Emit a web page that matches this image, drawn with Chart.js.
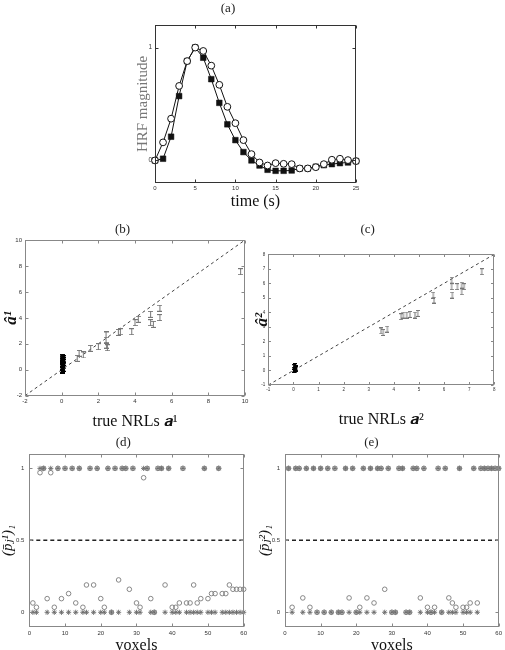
<!DOCTYPE html>
<html><head><meta charset="utf-8">
<script src="https://cdn.jsdelivr.net/npm/chart.js@4.4.1/dist/chart.umd.min.js"></script>
<style>
html,body{margin:0;padding:0;background:#fff;overflow:hidden;width:505px;height:650px;}
canvas{position:absolute;}
</style></head><body>
<canvas id="ca" width="311" height="213" style="left:100px;top:0px"></canvas>
<canvas id="cb" width="254" height="214" style="left:0px;top:218px"></canvas>
<canvas id="cc" width="264" height="212" style="left:241px;top:218px"></canvas>
<canvas id="cd" width="250" height="227" style="left:0px;top:433px"></canvas>
<canvas id="ce" width="264" height="227" style="left:241px;top:433px"></canvas>
<script>
// ---------- DATA ----------
// (a) HRF
const hrfTime = [0,1,2,3,4,5,6,7,8,9,10,11,12,13,14,15,16,17,18,19,20,21,22,23,24,25];
const hrfEstimated = [0,0.16,0.37,0.66,0.88,1.0,0.97,0.84,0.67,0.475,0.33,0.18,0.056,-0.018,-0.045,-0.024,-0.03,-0.033,-0.071,-0.071,-0.06,-0.033,0.006,0.015,0.003,-0.006];
const hrfTrue = [0,0.015,0.21,0.57,0.88,1.0,0.91,0.72,0.51,0.32,0.18,0.074,0,-0.045,-0.083,-0.092,-0.092,-0.089,-0.071,-0.071,-0.056,-0.042,-0.033,-0.024,-0.018,-0.006];
const hrfYTicks = [0, 1];

// (b) condition 1 NRLs
const b1TrueActive = [0.85,0.95,1.18,1.58,2.0,2.42,2.42,2.45,2.49,3.09,3.2,3.82,4.0,4.18,4.85,4.85,5.0,5.36,5.36,9.76];
const b1EstActive  = [0.88,1.26,1.14,1.65,1.78,2.29,2.68,1.9,1.7,2.88,2.93,2.93,3.63,3.89,4.27,3.63,3.5,4.74,4.02,7.56];
const b1TrueInactive = [0.02,0.05,0.08,0.03,0.06,0.1,0.04,0.07,0.02,0.09,0.05,0.08,0.03,0.06,0.1,0.04,0.07,0.05];
const b1EstInactive  = [-0.05,0.02,0.1,0.18,0.25,0.3,0.38,0.45,0.5,0.56,0.62,0.68,0.74,0.8,0.85,0.9,0.95,0.6];
const bIdentity = [-2, 10];

// (c) condition 2 NRLs
const c2TrueActive = [3.49,3.58,3.74,4.29,4.38,4.51,4.64,4.84,4.95,5.57,5.6,6.3,6.3,6.33,6.53,6.7,6.7,6.8,7.5];
const c2EstActive  = [2.72,2.62,2.85,3.7,3.82,3.82,3.86,3.82,3.93,5.19,4.85,6.22,5.77,5.19,5.77,5.88,5.42,5.77,6.8];
const c2TrueInactive = [0.02,0.05,0.08,0.1,0.04,0.07,0.12,0.06];
const c2EstInactive  = [0.05,0.12,0.2,0.1,0.25,0.0,0.15,0.3];
const cIdentity = [-1, 8];

// (d),(e) posterior probabilities per voxel
const voxels = [1,2,3,4,5,6,7,8,9,10,11,12,13,14,15,16,17,18,19,20,21,22,23,24,25,26,27,28,29,30,31,32,33,34,35,36,37,38,39,40,41,42,43,44,45,46,47,48,49,50,51,52,53,54,55,56,57,58,59,60];
const d1Labels = [0,0,1,1,0,1,0,1,0,1, 0,1,0,1,0,0,1,0,1,0, 0,1,0,1,0,1,1,0,1,0, 0,1,1,0,0,1,1,0,1,0, 0,0,1,0,0,0,0,0,1,0, 0,0,1,0,0,0,0,0,0,0];
const d1Probs  = [0.065,0.035,0.97,1,0.095,0.97,0.035,1,0.095,1, 0.13,1,0.065,1,0.035,0.19,1,0.19,1,0.095, 0.035,1,0,1,0.225,1,1,0.16,1,0.065, 0.035,0.935,1,0.095,0,1,1,0.19,1,0.035, 0.035,0.065,1,0.065,0.065,0.19,0.065,0.095,1,0.095, 0.13,0.13,1,0.13,0.13,0.19,0.16,0.16,0.16,0.16];
const e2Labels = [1,0,1,1,0,1,0,1,0,1, 0,1,0,1,0,0,1,0,1,0, 0,1,0,1,0,1,1,0,1,0, 0,1,1,0,0,1,1,0,1,0, 0,0,1,0,1,0,0,0,1,0, 0,0,1,0,1,1,1,1,1,1];
const e2Probs  = [1,0.035,1,1,0.1,1,0.035,1,0,1, 0,1,0,1,0,0,1,0.1,1,0, 0.035,1,0.1,1,0.065,1,1,0.16,1,0, 0,1,1,0,0,1,1,0.1,1,0.035, 0,0.035,1,0,1,0.1,0.065,0.035,1,0.035, 0.035,0.065,1,0.065,1,1,1,1,1,1];
const pYTicks = [0, 0.5, 1];
const pThreshold = 0.5;
const voxelRange = [0, 60];

// ---------- HELPERS ----------
const SERIF = "'Liberation Serif','DejaVu Serif',serif";
const SANS = "'Liberation Sans','DejaVu Sans',sans-serif";
const pts = (xs, ys) => xs.map((x, i) => ({x, y: ys[i]}));

function errBar(w, h, color, lw) {
  const c = document.createElement('canvas');
  c.width = w; c.height = h;
  const g = c.getContext('2d');
  g.strokeStyle = color; g.lineWidth = lw;
  g.beginPath();
  g.moveTo(0, 0.5); g.lineTo(w, 0.5);
  g.moveTo(0, h - 0.5); g.lineTo(w, h - 0.5);
  g.moveTo(w / 2, 0); g.lineTo(w / 2, h);
  g.stroke();
  return c;
}

const frame = {
  id: 'frame',
  afterDatasetsDraw(chart, args, o) {
    const {ctx, chartArea: a, scales} = chart;
    const L = Math.round(a.left) + 0.5, R = Math.round(a.right) - 0.5;
    const T = Math.round(a.top) + 0.5, B = Math.round(a.bottom) - 0.5;
    ctx.save();
    ctx.strokeStyle = o.color; ctx.lineWidth = 1;
    ctx.strokeRect(L, T, R - L, B - T);
    ctx.beginPath();
    const len = o.len;
    scales.x.ticks.forEach(t => {
      const p = Math.round(scales.x.getPixelForValue(t.value)) + 0.5;
      ctx.moveTo(p, B); ctx.lineTo(p, B - len);
      ctx.moveTo(p, T); ctx.lineTo(p, T + len);
    });
    scales.y.ticks.forEach(t => {
      const p = Math.round(scales.y.getPixelForValue(t.value)) + 0.5;
      ctx.moveTo(L, p); ctx.lineTo(L + len, p);
      ctx.moveTo(R, p); ctx.lineTo(R - len, p);
    });
    ctx.stroke();
    ctx.restore();
  }
};

function axis(o) {
  return {
    type: 'linear', min: o.min, max: o.max,
    border: {display: false},
    grid: {display: false, drawTicks: false},
    ticks: {stepSize: o.step, autoSkip: false, maxRotation: 0, minRotation: 0, padding: o.pad,
      font: {family: SANS, size: o.labelSize}, color: o.labelColor || '#333',
      callback: (v) => String(Math.round(v * 1000) / 1000)},
    afterBuildTicks: o.tickList ? (s) => { s.ticks = o.tickList.map(v => ({value: v})); } : undefined,
    afterFit: o.horizontal ? (s) => { s.height = o.size; } : (s) => { s.width = o.size; },
    title: {display: true, text: o.title, font: o.titleFont, color: o.titleColor || '#111', padding: o.titlePad}
  };
}

function panelTitle(text, pt, pb) {
  return {display: true, text, font: {family: SERIF, size: 13, weight: 'normal'}, color: '#222', padding: {top: pt, bottom: pb}};
}

const base = {responsive: false, animation: false, events: []};

// ---------- (a) ----------
new Chart(document.getElementById('ca'), {
  type: 'scatter',
  data: {datasets: [
    {data: pts(hrfTime, hrfEstimated), showLine: true, borderColor: '#111', borderWidth: 1,
     pointStyle: 'circle', pointRadius: 3.4, pointBackgroundColor: '#fff', pointBorderColor: '#111', pointBorderWidth: 1, clip: false},
    {data: pts(hrfTime, hrfTrue), showLine: true, borderColor: '#111', borderWidth: 1,
     pointStyle: 'rect', pointRadius: 4, pointBackgroundColor: '#111', pointBorderColor: '#111', pointBorderWidth: 0.5, clip: false}
  ]},
  options: Object.assign({}, base, {
    layout: {padding: {left: 0, right: 55, top: 0, bottom: 0}},
    plugins: {legend: {display: false}, tooltip: {enabled: false},
      title: panelTitle('(a)', 1.2, 8.2), frame: {color: '#333', len: 3}},
    scales: {
      x: axis({min: 0, max: 25, step: 5, pad: 2, labelSize: 6, horizontal: true, size: 30,
        title: 'time (s)', titleFont: {family: SERIF, size: 16}, titlePad: {top: 0, bottom: 1.7}}),
      y: axis({min: -0.2, max: 1.2, tickList: hrfYTicks, pad: 3, labelSize: 6.5, size: 55,
        title: 'HRF magnitude', titleFont: {family: SERIF, size: 15}, titleColor: '#777', titlePad: {top: 34, bottom: 0}})
    }
  }),
  plugins: [frame]
});

// ---------- (b) ----------
const barB = errBar(5, 7, '#777', 1);
const barBk = errBar(5, 7, '#000', 1.4);
new Chart(document.getElementById('cb'), {
  type: 'scatter',
  data: {datasets: [
    {data: pts(b1TrueActive, b1EstActive), pointStyle: barB, pointRadius: 3, clip: false},
    {data: pts(b1TrueInactive, b1EstInactive), pointStyle: barBk, pointRadius: 3, clip: false},
    {data: pts(bIdentity, bIdentity), showLine: true, borderColor: '#444', borderWidth: 1, borderDash: [3, 3], pointRadius: 0}
  ]},
  options: Object.assign({}, base, {
    layout: {padding: {left: 0, right: 9, top: 0, bottom: 0}},
    plugins: {legend: {display: false}, tooltip: {enabled: false},
      title: panelTitle('(b)', 4.2, 2.2), frame: {color: '#888', len: 3}},
    scales: {
      x: axis({min: -2, max: 10, step: 2, pad: 2, labelSize: 6, horizontal: true, size: 36.3,
        title: 'true NRLs 𝒂¹', titleFont: {family: SERIF, size: 16}, titlePad: {top: 0, bottom: 0.7}}),
      y: axis({min: -2, max: 10, step: 2, pad: 3, labelSize: 6, size: 25,
        title: 'â¹', titleFont: {family: SERIF, size: 17, style: 'italic', weight: 'bold'}, titlePad: {top: 1.4, bottom: 0}})
    }
  }),
  plugins: [frame]
});

// ---------- (c) ----------
const barC = errBar(4, 7, '#777', 1);
const barCk = errBar(4, 6, '#000', 1.4);
new Chart(document.getElementById('cc'), {
  type: 'scatter',
  data: {datasets: [
    {data: pts(c2TrueActive, c2EstActive), pointStyle: barC, pointRadius: 3, clip: false},
    {data: pts(c2TrueInactive, c2EstInactive), pointStyle: barCk, pointRadius: 3, clip: false},
    {data: pts(cIdentity, cIdentity), showLine: true, borderColor: '#444', borderWidth: 1, borderDash: [3, 3], pointRadius: 0}
  ]},
  options: Object.assign({}, base, {
    layout: {padding: {left: 0, right: 10.7, top: 0, bottom: 0}},
    plugins: {legend: {display: false}, tooltip: {enabled: false},
      title: panelTitle('(c)', 4.2, 16.5), frame: {color: '#888', len: 2.5}},
    scales: {
      x: axis({min: -1, max: 8, step: 1, pad: 2.5, labelSize: 4.5, horizontal: true, size: 45,
        title: 'true NRLs 𝒂²', titleFont: {family: SERIF, size: 16}, titlePad: {top: 0, bottom: 0.4}}),
      y: axis({min: -1, max: 8, step: 1, pad: 3, labelSize: 4.5, size: 27.3,
        title: 'â²', titleFont: {family: SERIF, size: 17, style: 'italic', weight: 'bold'}, titlePad: {top: 11, bottom: 0}})
    }
  }),
  plugins: [frame]
});

// ---------- (d), (e) ----------
function probChart(id, title, labels, probs, ytitle, yWidth, yTitlePad, padR) {
  return new Chart(document.getElementById(id), {
    type: 'scatter',
    data: {datasets: [
      {data: pts(voxels, probs), pointStyle: 'circle', pointRadius: 2.3, pointBackgroundColor: 'rgba(0,0,0,0)',
       pointBorderColor: '#7a7a7a', pointBorderWidth: 0.9, clip: false},
      {data: pts(voxels, labels), pointStyle: 'star', pointRadius: 2.6,
       pointBorderColor: '#6a6a6a', pointBorderWidth: 0.9, clip: false},
      {data: pts(voxelRange, [pThreshold, pThreshold]), showLine: true, borderColor: '#222', borderWidth: 1.5,
       borderDash: [4, 3], pointRadius: 0}
    ]},
    options: Object.assign({}, base, {
      layout: {padding: {left: 0, right: padR, top: 0, bottom: 0}},
      plugins: {legend: {display: false}, tooltip: {enabled: false},
        title: panelTitle(title, 2.2, 3.2), frame: {color: '#888', len: 3}},
      scales: {
        x: axis({min: 0, max: 60, step: 10, pad: 3, labelSize: 6, horizontal: true, size: 33.3,
          title: 'voxels', titleFont: {family: SERIF, size: 16}, titlePad: {top: 0, bottom: 4.5}}),
        y: axis({min: -0.1, max: 1.1, tickList: pYTicks, pad: 5, labelSize: 6, size: yWidth,
          title: ytitle, titleFont: {family: SERIF, size: 15, style: 'italic'}, titlePad: {top: yTitlePad, bottom: 0}})
      }
    }),
    plugins: [frame]
  });
}
probChart('cd', '(d)', d1Labels, d1Probs, '(p̄ⱼ¹)₁', 29.3, -1, 3.3);
probChart('ce', '(e)', e2Labels, e2Probs, '(p̄ⱼ²)₁', 44, 15, 3.3);
</script>
</body></html>
